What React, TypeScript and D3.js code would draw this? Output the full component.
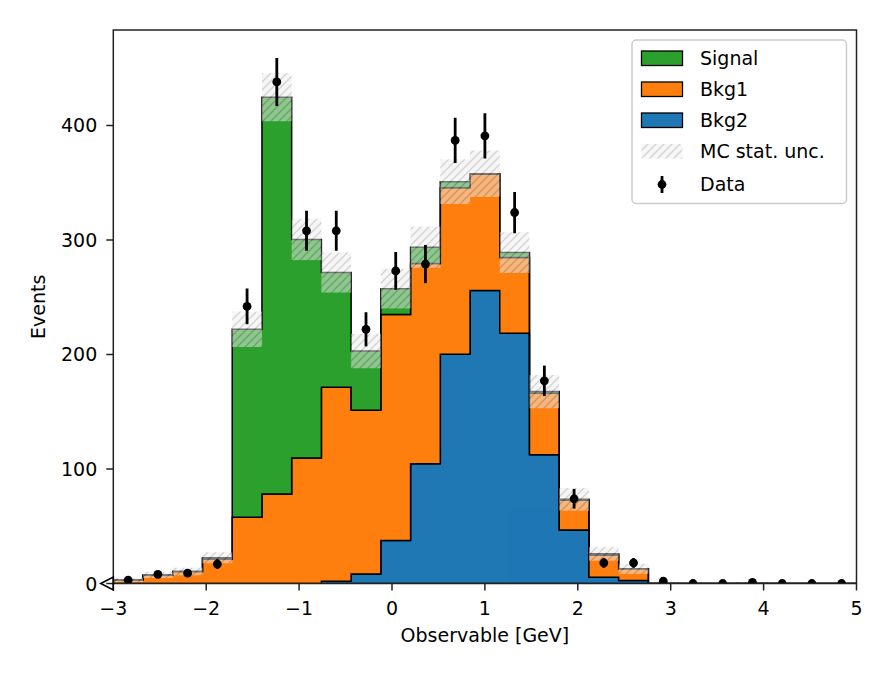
import React from "react";
import * as d3 from "d3";

// bin edges of the histogram [GeV]
const binEdges = [
  -3, -2.68, -2.36, -2.04, -1.72, -1.4, -1.08, -0.76, -0.44, -0.12, 0.2, 0.52,
  0.84, 1.16, 1.48, 1.8, 2.12, 2.44, 2.76, 3.08, 3.4, 3.72, 4.04, 4.36, 4.68, 5,
];

// stacked MC components (bottom to top)
const bkg2 = [
  0, 0, 0, 0, 0, 0, 0, 2, 8.4, 37.5, 104.6, 200.2, 256, 218.5, 112.4, 46.8, 5.5,
  2.6, 0, 0, 0, 0, 0, 0, 0,
];
const bkg1 = [
  3, 7.5, 10.5, 21.5, 57.8, 78.2, 109.5, 169.4, 143, 197.5, 174.9, 145.5, 101.5,
  66.2, 53.7, 26, 19.4, 10.2, 0.3, 0, 0, 0.3, 0, 0, 0,
];
const signal = [
  0, 0, 0, 1, 164.2, 346.5, 190.9, 100.2, 51.6, 22.5, 14.2, 5.2, 0.4, 4.3, 1.5,
  0.7, 1, 0, 0, 0, 0, 0, 0, 0, 0,
];
// MC statistical uncertainty on the total
const mcUnc = [
  1.8, 2.7, 3.3, 4.8, 15.5, 21, 18, 17.5, 15, 17.3, 18, 19.5, 20.3, 17.8, 14.5,
  9.9, 6, 4.4, 0.6, 0, 0, 0.6, 0, 0, 0,
];

// observed data
const dataCounts = [
  3, 8, 9, 17, 242, 438, 308, 308, 222, 273, 279, 387, 391, 324, 177, 74, 18,
  18, 2, 0, 0, 1, 0, 0, 0,
];
const dataErr = [
  1.7, 2.8, 3, 4.1, 15.6, 20.9, 17.5, 17.5, 14.9, 16.5, 16.7, 19.7, 19.8, 18,
  13.3, 8.6, 4.2, 4.2, 1.4, 0, 0, 1, 0, 0, 0,
];

const xTicks = [-3, -2, -1, 0, 1, 2, 3, 4, 5];
const yTicks = [0, 100, 200, 300, 400];

const legendItems = [
  { name: "Signal", color: "#2ca02c" },
  { name: "Bkg1", color: "#ff7f0e" },
  { name: "Bkg2", color: "#1f77b4" },
];

const W = 893;
const H = 679;
const left = 113.3;
const right = 856.5;
const top = 30;
const bottom = 583.5;
const font = "DejaVu Sans, sans-serif";
const fs = 19;

const fmt = (v: number) => (v < 0 ? "\u2212" + Math.abs(v) : String(v));

const App: React.FC = () => {
  const x = d3.scaleLinear().domain([-3, 5]).range([left, right]);
  const y = d3.scaleLinear().domain([0, 483.4]).range([bottom, top]);

  const nBins = binEdges.length - 1;
  const layers = [
    { vals: bkg2, color: "#1f77b4" },
    { vals: bkg1, color: "#ff7f0e" },
    { vals: signal, color: "#2ca02c" },
  ];

  // cumulative stack
  const cum: number[][] = [];
  let prev = new Array(nBins).fill(0);
  cum.push(prev);
  layers.forEach((l) => {
    const next = prev.map((p: number, i: number) => p + l.vals[i]);
    cum.push(next);
    prev = next;
  });
  const total = cum[cum.length - 1];

  const stepPath = (lo: number[], hi: number[]) => {
    const pts: [number, number][] = [];
    for (let i = 0; i < nBins; i++) {
      pts.push([x(binEdges[i]), y(hi[i])]);
      pts.push([x(binEdges[i + 1]), y(hi[i])]);
    }
    for (let i = nBins - 1; i >= 0; i--) {
      pts.push([x(binEdges[i + 1]), y(lo[i])]);
      pts.push([x(binEdges[i]), y(lo[i])]);
    }
    return d3.line()(pts) + "Z";
  };

  const centers = d3.range(nBins).map((i) => (binEdges[i] + binEdges[i + 1]) / 2);

  return (
    <svg
      width={W}
      height={H}
      style={{ position: "absolute", left: 0, top: 0, background: "#fff" }}
      fontFamily={font}
    >
      <defs>
        <clipPath id="plotClip">
          <rect x={left} y={top} width={right - left} height={bottom - top} />
        </clipPath>
        <pattern id="hatch" patternUnits="userSpaceOnUse" width={8} height={8}>
          <rect width={8} height={8} fill="#eeeeee" />
          <path
            d="M-2,2 l4,-4 M0,8 l8,-8 M6,10 l4,-4"
            stroke="#a6a6a6"
            strokeWidth={1.3}
          />
        </pattern>
      </defs>

      <g clipPath="url(#plotClip)">
        {layers.map((l, k) => (
          <path
            key={k}
            d={stepPath(cum[k], cum[k + 1])}
            fill={l.color}
            stroke="#000"
            strokeWidth={1.5}
            strokeLinejoin="miter"
          />
        ))}
        <g opacity={0.5}>
          {total.map((t, i) =>
            mcUnc[i] > 0 ? (
              <rect
                key={i}
                x={x(binEdges[i])}
                width={x(binEdges[i + 1]) - x(binEdges[i])}
                y={y(t + mcUnc[i])}
                height={y(t - mcUnc[i]) - y(t + mcUnc[i])}
                fill="url(#hatch)"
              />
            ) : null
          )}
        </g>
        {centers.map((c, i) => (
          <g key={i}>
            {dataErr[i] > 0 && (
              <line
                x1={x(c)}
                x2={x(c)}
                y1={y(dataCounts[i] - dataErr[i])}
                y2={y(dataCounts[i] + dataErr[i])}
                stroke="#000"
                strokeWidth={2.8}
              />
            )}
            <circle cx={x(c)} cy={y(dataCounts[i])} r={4.4} fill="#000" />
          </g>
        ))}
      </g>

      {/* axes frame */}
      <rect
        x={left}
        y={top}
        width={right - left}
        height={bottom - top}
        fill="none"
        stroke="#222"
        strokeWidth={1.5}
      />
      {xTicks.map((t) => (
        <g key={t}>
          <line x1={x(t)} x2={x(t)} y1={bottom} y2={bottom + 7} stroke="#222" strokeWidth={1.5} />
          <text x={x(t)} y={bottom + 31.5} fontSize={fs} textAnchor="middle" fill="#000">
            {fmt(t)}
          </text>
        </g>
      ))}
      {yTicks.map((t) => (
        <g key={t}>
          <line x1={left - 7} x2={left} y1={y(t)} y2={y(t)} stroke="#222" strokeWidth={1.5} />
          <text x={left - 16} y={y(t) + 7} fontSize={fs} textAnchor="end" fill="#000">
            {t}
          </text>
        </g>
      ))}
      {/* off-scale marker at the left edge */}
      <path
        d={`M${left - 12.5},${bottom} L${left},${bottom - 6.5} L${left},${bottom + 6.5} Z`}
        fill="none"
        stroke="#000"
        strokeWidth={1.6}
      />

      <text
        x={(left + right) / 2}
        y={642}
        fontSize={fs}
        textAnchor="middle"
        fill="#000"
      >
        Observable [GeV]
      </text>
      <text
        transform={`translate(45,${(top + bottom) / 2}) rotate(-90)`}
        fontSize={fs}
        textAnchor="middle"
        fill="#000"
      >
        Events
      </text>

      {/* legend */}
      <rect
        x={632}
        y={40}
        width={214.5}
        height={163.5}
        rx={4}
        fill="#fff"
        fillOpacity={0.8}
        stroke="#cccccc"
        strokeWidth={1.5}
      />
      {legendItems.map((it, i) => (
        <g key={it.name}>
          <rect
            x={641.5}
            y={51 + i * 31}
            width={41}
            height={14.5}
            fill={it.color}
            stroke="#000"
            strokeWidth={1.3}
          />
          <text x={700} y={65 + i * 31} fontSize={fs} fill="#000">
            {it.name}
          </text>
        </g>
      ))}
      <g opacity={0.5}>
        <rect x={641.5} y={144} width={41} height={14.5} fill="url(#hatch)" />
      </g>
      <text x={700} y={158} fontSize={fs} fill="#000">
        MC stat. unc.
      </text>
      <line x1={662} x2={662} y1={176} y2={193} stroke="#000" strokeWidth={2.8} />
      <circle cx={662} cy={184.5} r={4.4} fill="#000" />
      <text x={700} y={191} fontSize={fs} fill="#000">
        Data
      </text>
    </svg>
  );
};

export default App;
